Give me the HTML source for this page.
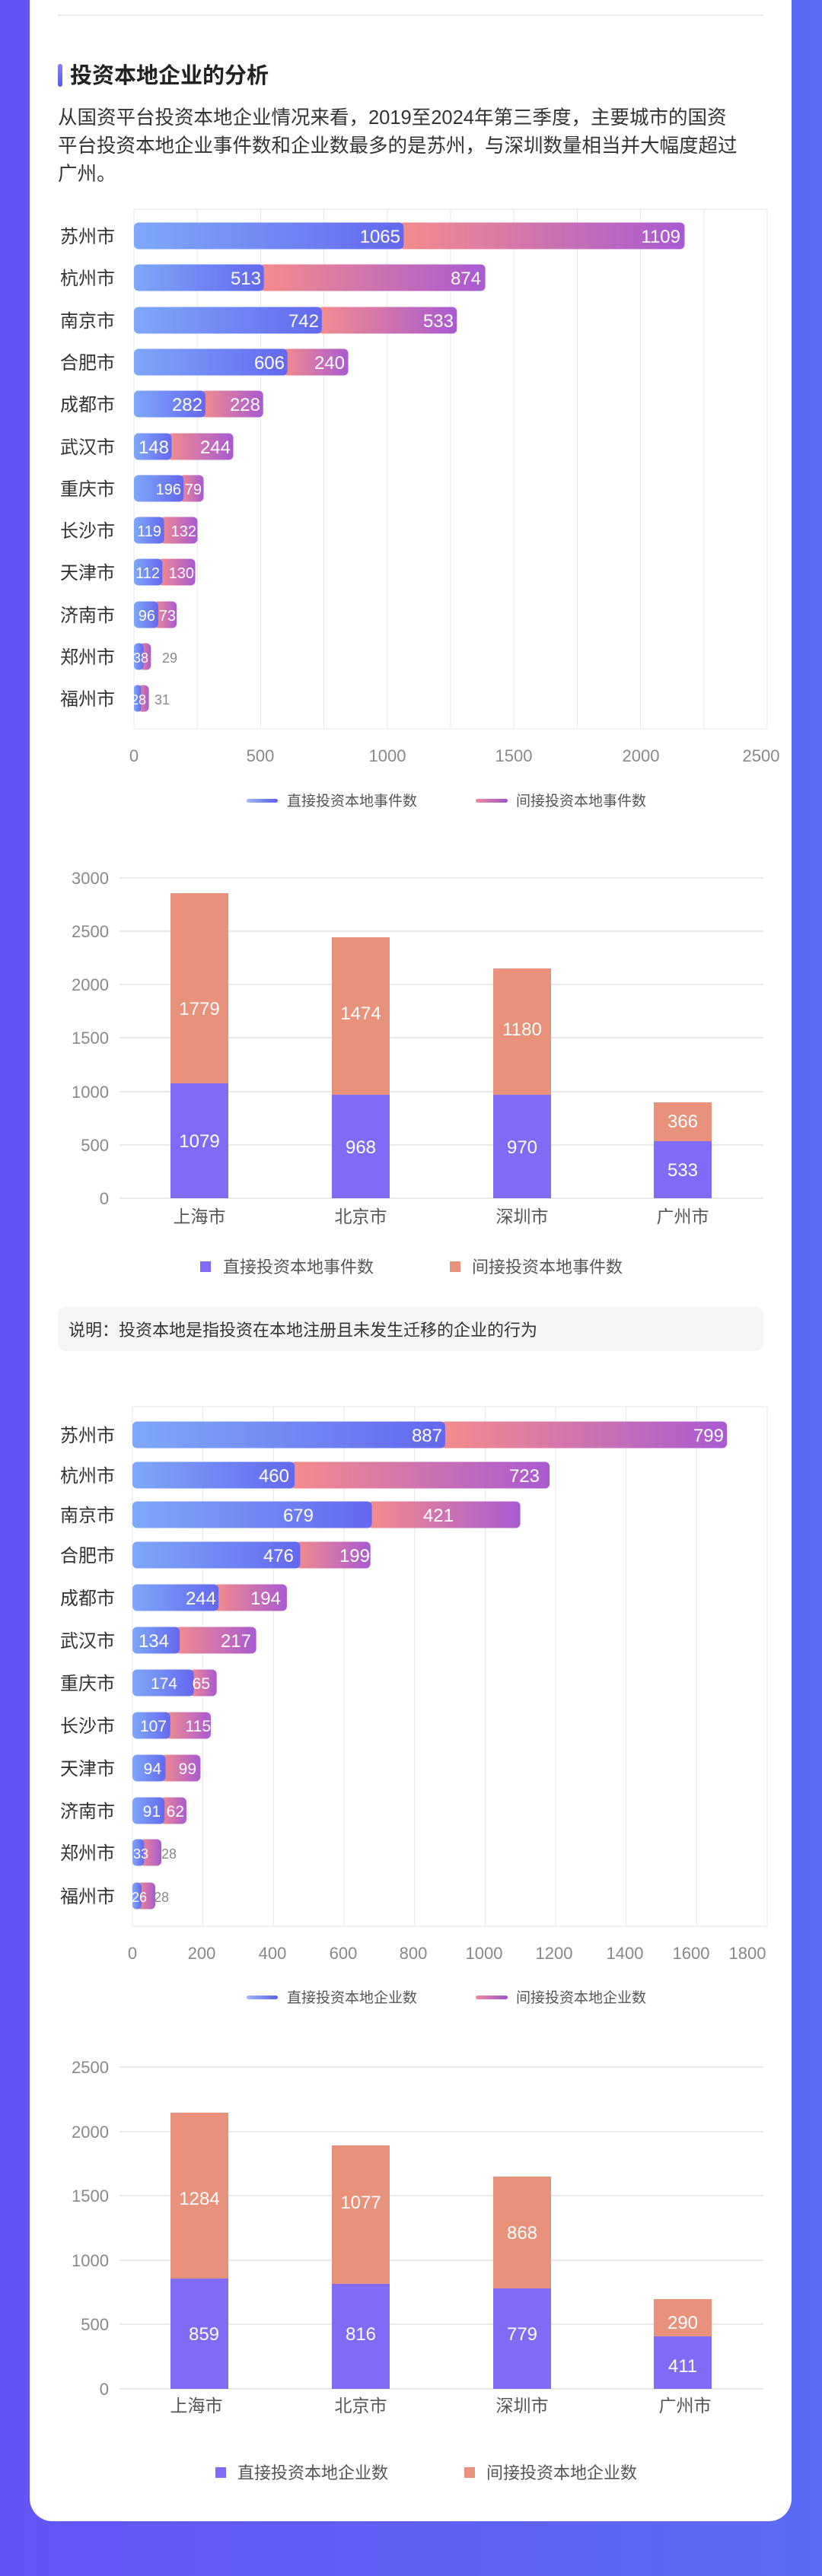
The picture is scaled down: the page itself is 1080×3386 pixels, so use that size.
<!DOCTYPE html>
<html><head><meta charset="utf-8"><style>
html,body{margin:0;padding:0;width:1080px;height:3386px;overflow:hidden;background:linear-gradient(90deg,#6354f6,#5b6bf6);}
svg{display:block;font-family:"Liberation Sans","Noto Sans CJK SC",sans-serif;}
</style></head><body>
<svg width="1080" height="3386" viewBox="0 0 1080 3386" xmlns="http://www.w3.org/2000/svg">
<defs>
<linearGradient id="gb" x1="0" x2="1" y1="0" y2="0"><stop offset="0" stop-color="#7ea8f9"/><stop offset="1" stop-color="#6468ef"/></linearGradient>
<linearGradient id="gp" x1="0" x2="1" y1="0" y2="0"><stop offset="0" stop-color="#f48c8c"/><stop offset="1" stop-color="#a85ad2"/></linearGradient>
<linearGradient id="lb" x1="0" x2="1"><stop offset="0" stop-color="#9fb8f8"/><stop offset="1" stop-color="#5b5fe8"/></linearGradient>
<linearGradient id="lp" x1="0" x2="1"><stop offset="0" stop-color="#f08aa0"/><stop offset="1" stop-color="#9a55c8"/></linearGradient>
<linearGradient id="acc" x1="0" x2="0" y1="0" y2="1"><stop offset="0" stop-color="#8a7cf8"/><stop offset="1" stop-color="#4f5fe8"/></linearGradient>
</defs>
<path d="M39 0 H1040 V3284 a30 30 0 0 1 -30 30 H69 a30 30 0 0 1 -30 -30 Z" fill="#fff"/>
<line x1="76" y1="20" x2="1003" y2="20" stroke="#e6e6e6" stroke-width="1.5"/>
<rect x="76" y="84" width="6" height="30" rx="3" fill="url(#acc)"/>
<text x="92" y="109" font-size="29" font-weight="bold" fill="#222">投资本地企业的分析</text>
<g font-size="25.5" fill="#333">
<text x="76" y="163">从国资平台投资本地企业情况来看，2019至2024年第三季度，主要城市的国资</text>
<text x="76" y="200">平台投资本地企业事件数和企业数最多的是苏州，与深圳数量相当并大幅度超过</text>
<text x="76" y="237">广州。</text>
</g>

<!-- Chart 1 -->
<g stroke="#e6e6e6" stroke-width="1">
<line x1="176" y1="275" x2="1008" y2="275"/>
<line x1="176" y1="275" x2="176" y2="958"/><line x1="259.2" y1="275" x2="259.2" y2="958"/><line x1="342.4" y1="275" x2="342.4" y2="958"/><line x1="425.6" y1="275" x2="425.6" y2="958"/><line x1="508.8" y1="275" x2="508.8" y2="958"/><line x1="592" y1="275" x2="592" y2="958"/><line x1="675.2" y1="275" x2="675.2" y2="958"/><line x1="758.4" y1="275" x2="758.4" y2="958"/><line x1="841.6" y1="275" x2="841.6" y2="958"/><line x1="924.8" y1="275" x2="924.8" y2="958"/><line x1="1008" y1="275" x2="1008" y2="958"/>
<line x1="176" y1="958" x2="1008" y2="958"/>
</g>
<g font-size="24" fill="#333">
<text x="79" y="319">苏州市</text><text x="79" y="374">杭州市</text><text x="79" y="430">南京市</text><text x="79" y="485">合肥市</text><text x="79" y="540">成都市</text><text x="79" y="596">武汉市</text><text x="79" y="651">重庆市</text><text x="79" y="706">长沙市</text><text x="79" y="761">天津市</text><text x="79" y="817">济南市</text><text x="79" y="872">郑州市</text><text x="79" y="927">福州市</text>
</g>
<g>
<rect x="524.4" y="292.5" width="375.1" height="35" rx="6" fill="url(#gp)"/><rect x="176" y="292.5" width="354.4" height="35" rx="6" fill="url(#gb)"/>
<rect x="340.7" y="347.5" width="296.9" height="35" rx="6" fill="url(#gp)"/><rect x="176" y="347.5" width="170.7" height="35" rx="6" fill="url(#gb)"/>
<rect x="416.9" y="403.5" width="183.4" height="35" rx="6" fill="url(#gp)"/><rect x="176" y="403.5" width="246.9" height="35" rx="6" fill="url(#gb)"/>
<rect x="371.7" y="458.5" width="85.8" height="35" rx="6" fill="url(#gp)"/><rect x="176" y="458.5" width="201.7" height="35" rx="6" fill="url(#gb)"/>
<rect x="263.8" y="513.5" width="81.9" height="35" rx="6" fill="url(#gp)"/><rect x="176" y="513.5" width="93.8" height="35" rx="6" fill="url(#gb)"/>
<rect x="219.3" y="569.5" width="87.2" height="35" rx="6" fill="url(#gp)"/><rect x="176" y="569.5" width="49.3" height="35" rx="6" fill="url(#gb)"/>
<rect x="235.2" y="624.5" width="32.3" height="35" rx="6" fill="url(#gp)"/><rect x="176" y="624.5" width="65.2" height="35" rx="6" fill="url(#gb)"/>
<rect x="209.6" y="679.5" width="49.9" height="35" rx="6" fill="url(#gp)"/><rect x="176" y="679.5" width="39.6" height="35" rx="6" fill="url(#gb)"/>
<rect x="207.3" y="734.5" width="49.2" height="35" rx="6" fill="url(#gp)"/><rect x="176" y="734.5" width="37.3" height="35" rx="6" fill="url(#gb)"/>
<rect x="201.9" y="790.5" width="30.3" height="35" rx="6" fill="url(#gp)"/><rect x="176" y="790.5" width="31.9" height="35" rx="6" fill="url(#gb)"/>
<rect x="182.6" y="845.5" width="15.7" height="35" rx="6" fill="url(#gp)"/><rect x="176" y="845.5" width="12.6" height="35" rx="5" fill="url(#gb)"/>
<rect x="180.3" y="900.5" width="15.3" height="35" rx="6" fill="url(#gp)"/><rect x="176" y="900.5" width="9.3" height="35" rx="4" fill="url(#gb)"/>
</g>
<g font-size="24" fill="#fff" text-anchor="end">
<text x="526" y="319">1065</text><text x="894" y="319">1109</text>
<text x="343" y="374">513</text><text x="632" y="374">874</text>
<text x="419" y="430">742</text><text x="596" y="430">533</text>
<text x="374" y="485">606</text><text x="453" y="485">240</text>
<text x="266" y="540">282</text><text x="342" y="540">228</text>
<text x="222" y="596">148</text><text x="303" y="596">244</text>
</g>
<g font-size="20" fill="#fff" text-anchor="end">
<text x="238" y="650">196</text><text x="265" y="650">79</text>
<text x="212" y="705">119</text><text x="258" y="705">132</text>
<text x="210" y="760">112</text><text x="255" y="760">130</text>
<text x="204" y="816">96</text><text x="231" y="816">73</text>
<text x="195" y="871" font-size="18">38</text>
<text x="192" y="926" font-size="18">28</text>
</g>
<g font-size="18" fill="#888"><text x="213" y="871">29</text><text x="203" y="926">31</text></g>
<g font-size="22" fill="#888" text-anchor="middle">
<text x="176" y="1001">0</text><text x="342" y="1001">500</text><text x="509" y="1001">1000</text><text x="675" y="1001">1500</text><text x="842" y="1001">2000</text><text x="1000" y="1001">2500</text>
</g>
<rect x="324" y="1050" width="41" height="5" rx="2.5" fill="url(#lb)"/>
<text x="377" y="1059" font-size="19" fill="#555">直接投资本地事件数</text>
<rect x="625" y="1050" width="42" height="5" rx="2.5" fill="url(#lp)"/>
<text x="678" y="1059" font-size="19" fill="#555">间接投资本地事件数</text>

<!-- Chart 2 -->
<g stroke="#e2e2e2" stroke-width="1.5">
<line x1="157" y1="1154" x2="1003" y2="1154"/><line x1="157" y1="1224" x2="1003" y2="1224"/><line x1="157" y1="1294" x2="1003" y2="1294"/><line x1="157" y1="1364" x2="1003" y2="1364"/><line x1="157" y1="1435" x2="1003" y2="1435"/><line x1="157" y1="1505" x2="1003" y2="1505"/><line x1="157" y1="1575" x2="1003" y2="1575"/>
</g>
<g font-size="22" fill="#888" text-anchor="end">
<text x="143" y="1162">3000</text><text x="143" y="1232">2500</text><text x="143" y="1302">2000</text><text x="143" y="1372">1500</text><text x="143" y="1443">1000</text><text x="143" y="1513">500</text><text x="143" y="1583">0</text>
</g>
<rect x="224" y="1174" width="76" height="250" fill="#e8927c"/><rect x="224" y="1424" width="76" height="151" fill="#7f6bf5"/>
<rect x="436" y="1232" width="76" height="207" fill="#e8927c"/><rect x="436" y="1439" width="76" height="136" fill="#7f6bf5"/>
<rect x="648" y="1273" width="76" height="166" fill="#e8927c"/><rect x="648" y="1439" width="76" height="136" fill="#7f6bf5"/>
<rect x="859" y="1449" width="76" height="51" fill="#e8927c"/><rect x="859" y="1500" width="76" height="75" fill="#7f6bf5"/>
<g font-size="24" fill="#fff" text-anchor="middle">
<text x="262" y="1334">1779</text><text x="262" y="1508">1079</text>
<text x="474" y="1340">1474</text><text x="474" y="1516">968</text>
<text x="686" y="1361">1180</text><text x="686" y="1516">970</text>
<text x="897" y="1482">366</text><text x="897" y="1546">533</text>
</g>
<g font-size="23" fill="#555" text-anchor="middle">
<text x="262" y="1607">上海市</text><text x="474" y="1607">北京市</text><text x="686" y="1607">深圳市</text><text x="897" y="1607">广州市</text>
</g>
<rect x="263" y="1658" width="14" height="14" fill="#7f6bf5"/>
<text x="293" y="1673" font-size="22" fill="#555">直接投资本地事件数</text>
<rect x="591" y="1658" width="14" height="14" fill="#e8927c"/>
<text x="620" y="1673" font-size="22" fill="#555">间接投资本地事件数</text>

<rect x="76" y="1718" width="927" height="58" rx="10" fill="#f5f5f5"/>
<text x="90" y="1756" font-size="22" fill="#333">说明：投资本地是指投资在本地注册且未发生迁移的企业的行为</text>

<!-- Chart 3 -->
<g stroke="#e6e6e6" stroke-width="1">
<line x1="174" y1="1849" x2="1008" y2="1849"/>
<line x1="174" y1="1849" x2="174" y2="2532"/><line x1="266.7" y1="1849" x2="266.7" y2="2532"/><line x1="359.3" y1="1849" x2="359.3" y2="2532"/><line x1="452" y1="1849" x2="452" y2="2532"/><line x1="544.7" y1="1849" x2="544.7" y2="2532"/><line x1="637.3" y1="1849" x2="637.3" y2="2532"/><line x1="730" y1="1849" x2="730" y2="2532"/><line x1="822.7" y1="1849" x2="822.7" y2="2532"/><line x1="915.3" y1="1849" x2="915.3" y2="2532"/><line x1="1008" y1="1849" x2="1008" y2="2532"/>
<line x1="174" y1="2532" x2="1008" y2="2532"/>
</g>
<g font-size="24" fill="#333">
<text x="79" y="1895">苏州市</text><text x="79" y="1948">杭州市</text><text x="79" y="2000">南京市</text><text x="79" y="2053">合肥市</text><text x="79" y="2109">成都市</text><text x="79" y="2165">武汉市</text><text x="79" y="2221">重庆市</text><text x="79" y="2277">长沙市</text><text x="79" y="2333">天津市</text><text x="79" y="2389">济南市</text><text x="79" y="2444">郑州市</text><text x="79" y="2501">福州市</text>
</g>
<g>
<rect x="578.9" y="1868.5" width="376.2" height="35" rx="6" fill="url(#gp)"/><rect x="174" y="1868.5" width="410.9" height="35" rx="6" fill="url(#gb)"/>
<rect x="381.1" y="1921.5" width="341" height="35" rx="6" fill="url(#gp)"/><rect x="174" y="1921.5" width="213.1" height="35" rx="6" fill="url(#gb)"/>
<rect x="482.6" y="1973.5" width="201" height="35" rx="6" fill="url(#gp)"/><rect x="174" y="1973.5" width="314.6" height="35" rx="6" fill="url(#gb)"/>
<rect x="388.5" y="2026.5" width="98.2" height="35" rx="6" fill="url(#gp)"/><rect x="174" y="2026.5" width="220.5" height="35" rx="6" fill="url(#gb)"/>
<rect x="281" y="2082.5" width="95.9" height="35" rx="6" fill="url(#gp)"/><rect x="174" y="2082.5" width="113" height="35" rx="6" fill="url(#gb)"/>
<rect x="230.1" y="2138.5" width="106.5" height="35" rx="6" fill="url(#gp)"/><rect x="174" y="2138.5" width="62.1" height="35" rx="6" fill="url(#gb)"/>
<rect x="248.6" y="2194.5" width="36.1" height="35" rx="6" fill="url(#gp)"/><rect x="174" y="2194.5" width="80.6" height="35" rx="6" fill="url(#gb)"/>
<rect x="217.6" y="2250.5" width="59.3" height="35" rx="6" fill="url(#gp)"/><rect x="174" y="2250.5" width="49.6" height="35" rx="6" fill="url(#gb)"/>
<rect x="211.5" y="2306.5" width="51.9" height="35" rx="6" fill="url(#gp)"/><rect x="174" y="2306.5" width="43.5" height="35" rx="6" fill="url(#gb)"/>
<rect x="210.2" y="2362.5" width="34.7" height="35" rx="6" fill="url(#gp)"/><rect x="174" y="2362.5" width="42.2" height="35" rx="6" fill="url(#gb)"/>
<rect x="183.3" y="2417.5" width="28.7" height="35" rx="6" fill="url(#gp)"/><rect x="174" y="2417.5" width="15.3" height="35" rx="5" fill="url(#gb)"/>
<rect x="180" y="2474.5" width="24" height="35" rx="6" fill="url(#gp)"/><rect x="174" y="2474.5" width="12" height="35" rx="5" fill="url(#gb)"/>
</g>
<g font-size="24" fill="#fff" text-anchor="end">
<text x="581" y="1895">887</text><text x="951" y="1895">799</text>
<text x="380" y="1948">460</text><text x="709" y="1948">723</text>
<text x="412" y="2000">679</text><text x="596" y="2000">421</text>
<text x="386" y="2053">476</text><text x="486" y="2053">199</text>
<text x="284" y="2109">244</text><text x="369" y="2109">194</text>
<text x="222" y="2165">134</text><text x="330" y="2165">217</text>
</g>
<g font-size="21" fill="#fff" text-anchor="end">
<text x="233" y="2220">174</text><text x="276" y="2220">65</text>
<text x="219" y="2276">107</text><text x="277" y="2276">115</text>
<text x="212" y="2332">94</text><text x="258" y="2332">99</text>
<text x="211" y="2388">91</text><text x="242" y="2388">62</text>
<text x="195" y="2443" font-size="18">33</text>
<text x="193" y="2500" font-size="18">26</text>
</g>
<g font-size="18" fill="#888"><text x="212" y="2443">28</text><text x="202" y="2500">28</text></g>
<g font-size="22" fill="#888" text-anchor="middle">
<text x="174" y="2575">0</text><text x="265" y="2575">200</text><text x="358" y="2575">400</text><text x="451" y="2575">600</text><text x="543" y="2575">800</text><text x="636" y="2575">1000</text><text x="728" y="2575">1200</text><text x="821" y="2575">1400</text><text x="908" y="2575">1600</text><text x="982" y="2575">1800</text>
</g>
<rect x="324" y="2623" width="41" height="5" rx="2.5" fill="url(#lb)"/>
<text x="377" y="2632" font-size="19" fill="#555">直接投资本地企业数</text>
<rect x="625" y="2623" width="42" height="5" rx="2.5" fill="url(#lp)"/>
<text x="678" y="2632" font-size="19" fill="#555">间接投资本地企业数</text>

<!-- Chart 4 -->
<g stroke="#e2e2e2" stroke-width="1.5">
<line x1="157" y1="2717" x2="1003" y2="2717"/><line x1="157" y1="2802" x2="1003" y2="2802"/><line x1="157" y1="2886" x2="1003" y2="2886"/><line x1="157" y1="2971" x2="1003" y2="2971"/><line x1="157" y1="3055" x2="1003" y2="3055"/><line x1="157" y1="3140" x2="1003" y2="3140"/>
</g>
<g font-size="22" fill="#888" text-anchor="end">
<text x="143" y="2725">2500</text><text x="143" y="2810">2000</text><text x="143" y="2894">1500</text><text x="143" y="2979">1000</text><text x="143" y="3063">500</text><text x="143" y="3148">0</text>
</g>
<rect x="224" y="2777" width="76" height="218" fill="#e8927c"/><rect x="224" y="2995" width="76" height="145" fill="#7f6bf5"/>
<rect x="436" y="2820" width="76" height="182" fill="#e8927c"/><rect x="436" y="3002" width="76" height="138" fill="#7f6bf5"/>
<rect x="648" y="2861" width="76" height="147" fill="#e8927c"/><rect x="648" y="3008" width="76" height="132" fill="#7f6bf5"/>
<rect x="859" y="3022" width="76" height="49" fill="#e8927c"/><rect x="859" y="3071" width="76" height="69" fill="#7f6bf5"/>
<g font-size="24" fill="#fff" text-anchor="middle">
<text x="262" y="2898">1284</text><text x="268" y="3076">859</text>
<text x="474" y="2903">1077</text><text x="474" y="3076">816</text>
<text x="686" y="2943">868</text><text x="686" y="3076">779</text>
<text x="897" y="3061">290</text><text x="897" y="3118">411</text>
</g>
<g font-size="23" fill="#555" text-anchor="middle">
<text x="258" y="3170">上海市</text><text x="474" y="3170">北京市</text><text x="686" y="3170">深圳市</text><text x="900" y="3170">广州市</text>
</g>
<rect x="283" y="3243" width="14" height="14" fill="#7f6bf5"/>
<text x="312" y="3258" font-size="22" fill="#555">直接投资本地企业数</text>
<rect x="610" y="3243" width="14" height="14" fill="#e8927c"/>
<text x="639" y="3258" font-size="22" fill="#555">间接投资本地企业数</text>
</svg>
</body></html>
